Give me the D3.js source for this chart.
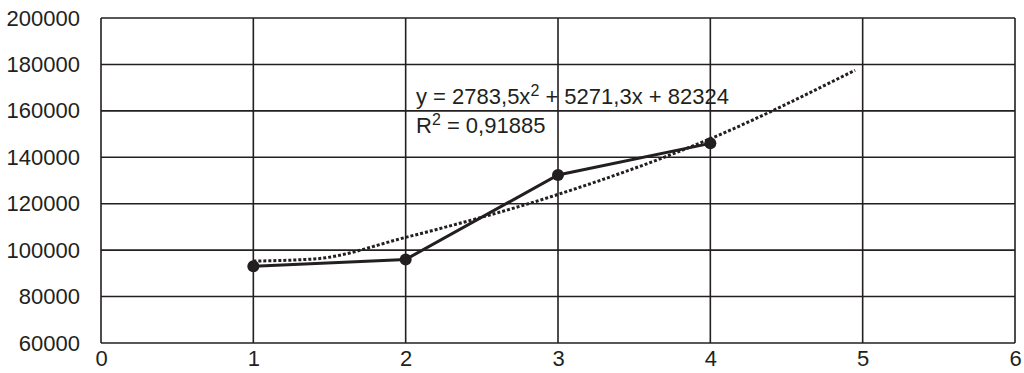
<!DOCTYPE html>
<html>
<head>
<meta charset="utf-8">
<script src="https://cdn.jsdelivr.net/npm/d3@7"></script>
<style>
  body { margin: 0; background: #fff; }
  text { font-family: "Liberation Sans", Arial, sans-serif; fill: #231f20; }
</style>
</head>
<body>
<div id="chart"></div>
<script>
// data
const xs = [1, 2, 3, 4];
const values = [93100, 96000, 132400, 146000];
// dotted trend line, as drawn
const trendX = [1, 1.4, 2, 3, 4, 4.95];
const trendY = [95300, 96200, 105500, 124000, 148000, 177500];
const xTicks = [0, 1, 2, 3, 4, 5, 6];
const yTicks = [60000, 80000, 100000, 120000, 140000, 160000, 180000, 200000];
const eqText = "y = 2783,5x";
const eqRest = " + 5271,3x + 82324";
const r2Text = " = 0,91885";

const width = 1024, height = 373;
const margin = { top: 18, right: 9, bottom: 30, left: 101 };
const ink = "#231f20";
const fontSize = "22px";

const svg = d3.select("#chart").append("svg")
  .attr("width", width).attr("height", height);

const x = d3.scaleLinear().domain([0, 6]).range([margin.left, width - margin.right]);
const y = d3.scaleLinear().domain([60000, 200000]).range([height - margin.bottom, margin.top]);

// grid
svg.append("g").selectAll("line.h").data(yTicks).enter().append("line")
  .attr("x1", x(0)).attr("x2", x(6))
  .attr("y1", d => y(d)).attr("y2", d => y(d))
  .attr("stroke", ink).attr("stroke-width", 1.6);
svg.append("g").selectAll("line.v").data(xTicks).enter().append("line")
  .attr("x1", d => x(d)).attr("x2", d => x(d))
  .attr("y1", y(60000)).attr("y2", y(200000))
  .attr("stroke", ink).attr("stroke-width", 1.6);

// axes (labels only)
const yAxis = svg.append("g")
  .attr("transform", `translate(${margin.left},0)`)
  .call(d3.axisLeft(y).tickValues(yTicks).tickSize(0).tickPadding(21).tickFormat(d3.format("d")));
yAxis.select(".domain").remove();
yAxis.selectAll("text").style("font-size", fontSize).attr("fill", ink);

const xAxis = svg.append("g")
  .attr("transform", `translate(0,${height - margin.bottom})`)
  .call(d3.axisBottom(x).tickValues(xTicks).tickSize(0).tickPadding(7).tickFormat(d3.format("d")));
xAxis.select(".domain").remove();
xAxis.selectAll("text").style("font-size", fontSize).attr("fill", ink);

// trend line
const trend = trendX.map((d, i) => [d, trendY[i]]);
svg.append("path")
  .datum(trend)
  .attr("d", d3.line().x(d => x(d[0])).y(d => y(d[1])).curve(d3.curveMonotoneX))
  .attr("fill", "none").attr("stroke", ink)
  .attr("stroke-width", 3).attr("stroke-dasharray", "3,2");

// series
const pts = xs.map((d, i) => [d, values[i]]);
svg.append("path")
  .datum(pts)
  .attr("d", d3.line().x(d => x(d[0])).y(d => y(d[1])))
  .attr("fill", "none").attr("stroke", ink).attr("stroke-width", 3);
svg.selectAll("circle").data(pts).enter().append("circle")
  .attr("cx", d => x(d[0])).attr("cy", d => y(d[1]))
  .attr("r", 6).attr("fill", ink);

// equation label
const eq = svg.append("text").attr("x", 416).attr("y", 104).style("font-size", fontSize);
eq.append("tspan").text(eqText);
eq.append("tspan").attr("dy", -8).style("font-size", "16px").text("2");
eq.append("tspan").attr("dy", 8).text(eqRest);
const r2 = svg.append("text").attr("x", 416).attr("y", 133).style("font-size", fontSize);
r2.append("tspan").text("R");
r2.append("tspan").attr("dy", -8).style("font-size", "16px").text("2");
r2.append("tspan").attr("dy", 8).text(r2Text);
</script>
</body>
</html>
